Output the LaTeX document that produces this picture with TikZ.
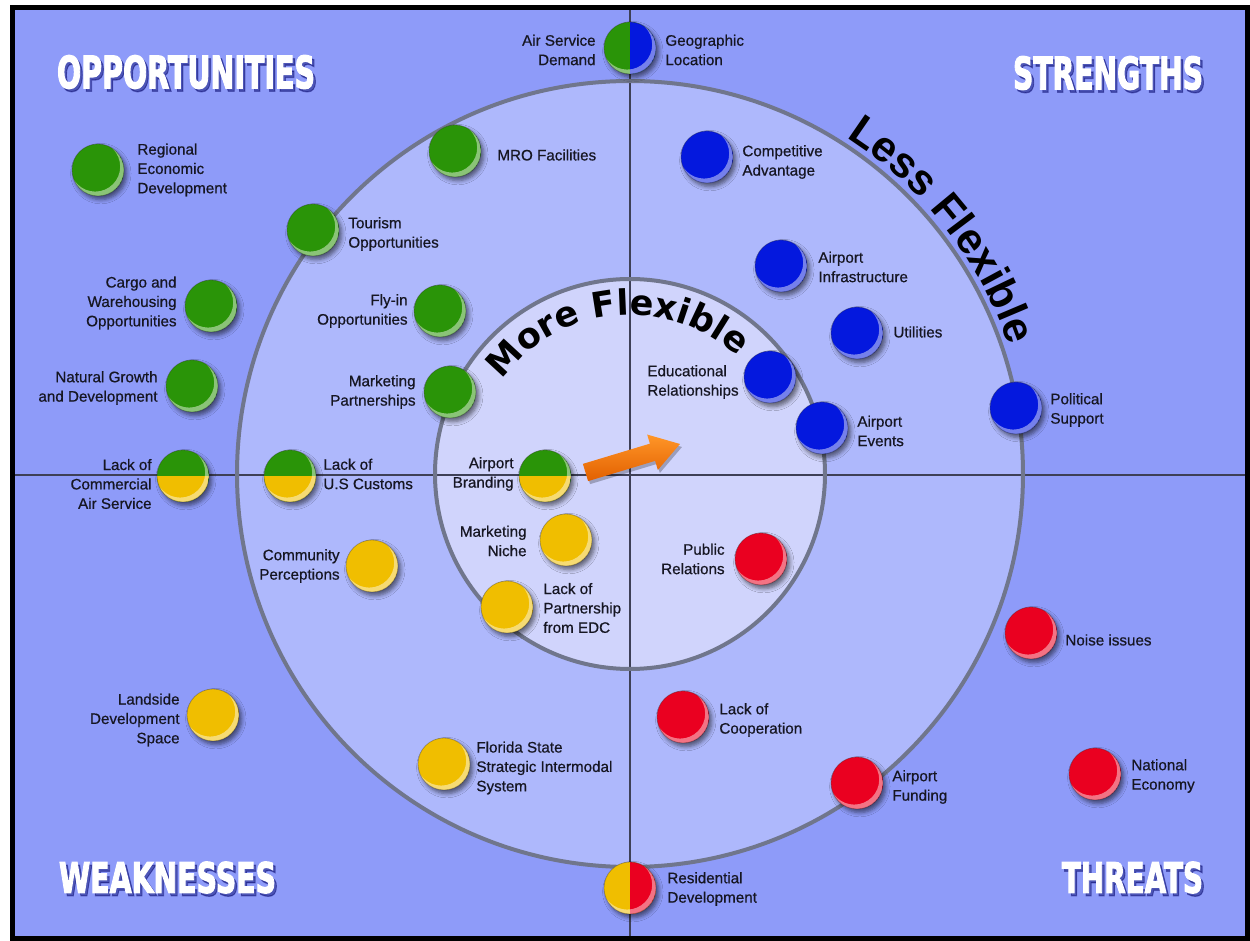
\documentclass[tikz,border=0pt]{standalone}
\usepackage{fontspec}
\setmainfont{Liberation Sans}
\newfontfamily\flexfont{DejaVu Sans}
\newfontfamily\lessfont{Liberation Sans}
\newfontfamily\labfont{Liberation Sans}[FakeBold=0.6]
\newfontfamily\heavyfont{DejaVu Sans}[BoldFeatures={FakeBold=3}]
\usetikzlibrary{shadows.blur,decorations.text}

\definecolor{bgout}{RGB}{142,155,249}
\definecolor{ringc}{RGB}{174,184,252}
\definecolor{innerc}{RGB}{208,212,252}
\definecolor{gG}{RGB}{42,148,8}
\definecolor{gB}{RGB}{4,24,222}
\definecolor{gR}{RGB}{234,0,32}
\definecolor{gY}{RGB}{240,190,0}
\definecolor{ink}{RGB}{22,22,34}
\definecolor{crossc}{RGB}{62,64,86}
\definecolor{rimc}{RGB}{112,118,140}
\definecolor{orgA}{RGB}{255,150,40}
\definecolor{orgB}{RGB}{226,96,0}

\newcommand\bubshine{%
  \fill[white,opacity=0.45,even odd rule]
    (path picture bounding box.center) circle[radius=13pt]
    ([shift={(-1.4pt,1.7pt)}]path picture bounding box.center) circle[radius=12.5pt];}
\newcommand\ttl[3]{\resizebox{#1}{#2}{\heavyfont\bfseries #3}}

\tikzset{
  bub/.style={circle, minimum size=26pt, inner sep=0pt, fill=#1,
    draw=black, draw opacity=0.25, line width=0.4pt,
    blur shadow={shadow xshift=1.4pt, shadow yshift=-1.8pt, shadow blur steps=5, shadow opacity=55},
    path picture={\bubshine}},
  hbub/.style 2 args={bub=#1, path picture={\fill[#2] (path picture bounding box.west) rectangle (path picture bounding box.south east); \bubshine}},
  vbub/.style 2 args={bub=#1, path picture={\fill[#2] (path picture bounding box.north) rectangle (path picture bounding box.south east); \bubshine}},
  lab/.style={font=\labfont\fontsize{7.6}{9.7}\selectfont, text=ink, inner sep=0pt, align=left, anchor=west},
  labl/.style={lab, align=right, anchor=east},
  ttlnode/.style={inner sep=0pt, text=white},
  ttlshadow/.style={inner sep=0pt, text=black!60!blue, opacity=0.45},
}

\begin{document}
\begin{tikzpicture}[x=0.5pt,y=0.5pt]
\fill[white] (0,0) rectangle (1250,-941);
\useasboundingbox (0,0) rectangle (1250,-941);
\coordinate (C) at (630,-474);

% background
\fill[bgout] (12,-7) rectangle (1247,-938);
\fill[ringc] (C) circle[radius=393];
\fill[innerc] (C) circle[radius=195];

% cross lines
\coordinate (vt) at (630,-7);
\coordinate (vb) at (630,-938);
\coordinate (hl) at (12,-475);
\coordinate (hr) at (1247,-475);
\draw[crossc, line width=1.1pt] (vt) -- (vb);
\draw[crossc, line width=1.1pt] (hl) -- (hr);

% circle outlines
\draw[rimc, line width=2pt] (C) circle[radius=393];
\draw[rimc, line width=2pt] (C) circle[radius=195];

% frame
\draw[black, line width=2.5pt] (12.5,-7.5) rectangle (1247.5,-938);

% curved texts
\path[decorate, decoration={text along path, text align=center,
  text={|\flexfont\bfseries\fontsize{17.5pt}{17.5pt}\selectfont|More Flexible}}]
  (C) ++(165.5:159) arc[start angle=165.5, end angle=25.5, radius=159];
\path[decorate, decoration={text along path, text align=center,
  text={|\lessfont\bfseries\fontsize{21.5pt}{21.5pt}\selectfont|Less Flexible}}]
  (C) ++(78:400) arc[start angle=78, end angle=-2, radius=400];

% titles
\node[ttlshadow] (opp-s) at (188.5,-75) {\ttl{129pt}{16.5pt}{OPPORTUNITIES}};
\node[ttlnode] (opp) at (186,-72) {\ttl{129pt}{16.5pt}{OPPORTUNITIES}};
\node[ttlshadow] (str-s) at (1110.5,-76) {\ttl{95pt}{16.5pt}{STRENGTHS}};
\node[ttlnode] (str) at (1108,-73) {\ttl{95pt}{16.5pt}{STRENGTHS}};
\node[ttlshadow] (weak-s) at (170,-880.5) {\ttl{108.5pt}{15.5pt}{WEAKNESSES}};
\node[ttlnode] (weak) at (167.5,-877.5) {\ttl{108.5pt}{15.5pt}{WEAKNESSES}};
\node[ttlshadow] (thr-s) at (1135,-880.5) {\ttl{70.5pt}{15.5pt}{THREATS}};
\node[ttlnode] (thr) at (1132.5,-877.5) {\ttl{70.5pt}{15.5pt}{THREATS}};

% arrow
\begin{scope}[shift={(587.5,-475.5)}, rotate=16.8]
  \fill[black, opacity=0.25] (0,-9) -- (70,-9) -- (70,-18.5) -- (98.7,0) -- (70,18.5) -- (70,9) -- (0,9) -- cycle;
\end{scope}
\begin{scope}[shift={(585.5,-472.5)}, rotate=16.8]
  \shade[top color=orgA, bottom color=orgB] (0,-9) -- (70,-9) -- (70,-18.5) -- (98.7,0) -- (70,18.5) -- (70,9) -- (0,9) -- cycle;
\end{scope}

% bubbles
\node[bub=gG] (reg) at (98,-170) {};
\node[bub=gG] (tour) at (313,-230) {};
\node[bub=gG] (mro) at (455,-151) {};
\node[vbub={gG}{gB}] (asd) at (630,-48) {};
\node[bub=gB] (comp) at (707,-157) {};
\node[bub=gB] (infra) at (781,-266) {};
\node[bub=gG] (cargo) at (211,-306) {};
\node[bub=gG] (fly) at (440,-311) {};
\node[bub=gG] (nat) at (192,-386) {};
\node[bub=gG] (mkp) at (450,-392) {};
\node[bub=gB] (util) at (857,-333) {};
\node[bub=gB] (edu) at (770,-377) {};
\node[bub=gB] (evt) at (822,-428) {};
\node[bub=gB] (pol) at (1016,-408) {};
\node[hbub={gG}{gY}] (lcas) at (183,-476) {};
\node[hbub={gG}{gY}] (lusc) at (290,-476) {};
\node[hbub={gG}{gY}] (brand) at (545,-476) {};
\node[bub=gY] (niche) at (566,-540) {};
\node[bub=gY] (edc) at (507,-607) {};
\node[bub=gY] (comm) at (372,-566) {};
\node[bub=gR] (pr) at (761,-559) {};
\node[bub=gY] (land) at (213,-715) {};
\node[bub=gY] (fl) at (444,-764) {};
\node[bub=gR] (coop) at (683,-717) {};
\node[vbub={gY}{gR}] (res) at (630,-888) {};
\node[bub=gR] (fund) at (857,-783) {};
\node[bub=gR] (econ) at (1095,-774) {};
\node[bub=gR] (noise) at (1031,-633) {};

% labels
\node[lab] (reg-l) at (137,-170) {Regional\\Economic\\Development};
\node[lab] (tour-l) at (348,-234) {Tourism\\Opportunities};
\node[lab] (mro-l) at (497,-155) {MRO Facilities};
\node[labl] (asd-l) at (596,-50) {Air Service\\Demand};
\node[lab] (geo-l) at (665,-50) {Geographic\\Location};
\node[lab] (comp-l) at (742,-162) {Competitive\\Advantage};
\node[lab] (infra-l) at (818,-267) {Airport\\Infrastructure};
\node[labl] (cargo-l) at (177,-303) {Cargo and\\Warehousing\\Opportunities};
\node[labl] (fly-l) at (408,-311) {Fly-in\\Opportunities};
\node[labl] (nat-l) at (158,-388) {Natural Growth\\and Development};
\node[labl] (mkp-l) at (416,-392) {Marketing\\Partnerships};
\node[lab] (util-l) at (893,-332) {Utilities};
\node[lab] (edu-l) at (647,-382) {Educational\\Relationships};
\node[lab] (evt-l) at (857,-431) {Airport\\Events};
\node[lab] (pol-l) at (1050,-410) {Political\\Support};
\node[labl] (lcas-l) at (152,-484) {Lack of\\Commercial\\Air Service};
\node[lab] (lusc-l) at (323,-474) {Lack of\\U.S Customs};
\node[labl] (brand-l) at (514,-474) {Airport\\Branding};
\node[labl] (niche-l) at (527,-541) {Marketing\\Niche};
\node[lab] (edc-l) at (543,-608) {Lack of\\Partnership\\from EDC};
\node[labl] (comm-l) at (340,-566) {Community\\Perceptions};
\node[labl] (pr-l) at (725,-559) {Public\\Relations};
\node[labl] (land-l) at (180,-720) {Landside\\Development\\Space};
\node[lab] (fl-l) at (476,-768) {Florida State\\Strategic Intermodal\\System};
\node[lab] (coop-l) at (719,-720) {Lack of\\Cooperation};
\node[lab] (res-l) at (667,-889) {Residential\\Development};
\node[lab] (fund-l) at (892,-787) {Airport\\Funding};
\node[lab] (econ-l) at (1131,-776) {National\\Economy};
\node[lab] (noise-l) at (1065,-640) {Noise issues};
\end{tikzpicture}
\end{document}
